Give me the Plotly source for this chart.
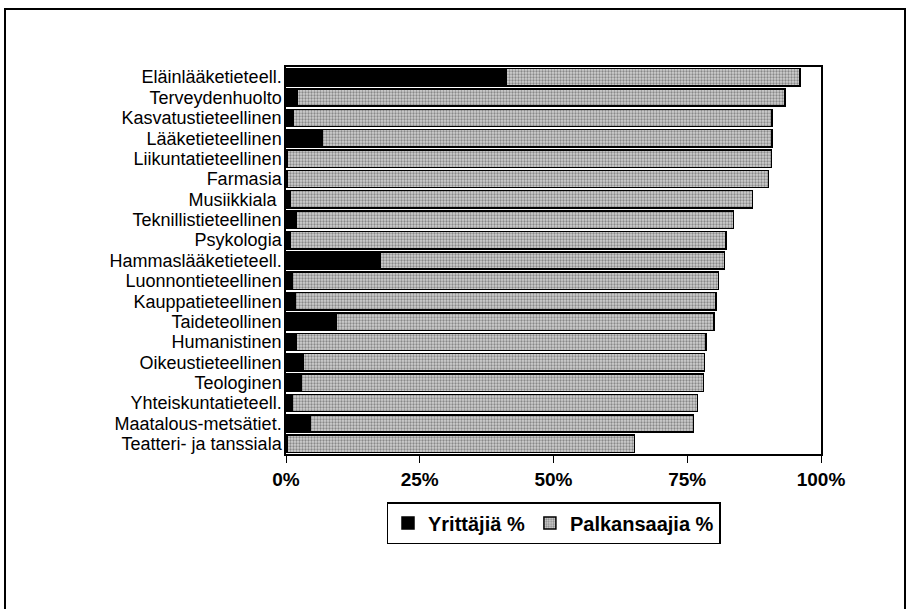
import plotly.graph_objects as go

categories = ["Eläinlääketieteell.", "Terveydenhuolto", "Kasvatustieteellinen", "Lääketieteellinen",
              "Liikuntatieteellinen", "Farmasia", "Musiikkiala\u00a0", "Teknillistieteellinen",
              "Psykologia", "Hammaslääketieteell.", "Luonnontieteellinen", "Kauppatieteellinen",
              "Taideteollinen", "Humanistinen", "Oikeustieteellinen", "Teologinen",
              "Yhteiskuntatieteell.", "Maatalous-metsätiet.", "Teatteri- ja tanssiala"]
yrittajia = [41.2, 2.1, 1.3, 6.8, 0.3, 0.2, 0.8, 1.9, 0.8, 17.7, 1.2, 1.7, 9.3, 2.0, 3.2, 2.9, 1.2, 4.6, 0.2]
palkansaajia = [54.9, 91.2, 89.5, 84.0, 90.4, 90.0, 86.4, 81.7, 81.4, 64.3, 79.6, 78.7, 70.7, 76.5, 75.0, 75.1, 75.7, 71.6, 64.9]
tick_vals = [0, 25, 50, 75, 100]
tick_text = ["0%", "25%", "50%", "75%", "100%"]

W, H = 910, 609
L, R, T, B = 286, 89, 67, 155
pw, ph = W - L - R, H - T - B

fig = go.Figure()
fig.add_trace(go.Bar(
    y=categories, x=yrittajia, orientation="h", name="Yrittäjiä %",
    marker=dict(color="black", line=dict(color="black", width=1.5)),
))
fig.add_trace(go.Bar(
    y=categories, x=palkansaajia, orientation="h", name="Palkansaajia %",
    marker=dict(color="#b0b0b0", line=dict(color="black", width=1.5),
                pattern=dict(shape=".", fgcolor="#404040", bgcolor="#d0d0d0", size=3, solidity=0.45)),
))

def px_x(x):
    return (x - L) / pw

def px_y(y):
    return (H - B - y) / ph

fig.add_shape(type="rect", xref="paper", yref="paper",
              x0=px_x(5), x1=px_x(905), y0=px_y(640), y1=px_y(9),
              line=dict(color="black", width=2), fillcolor="rgba(0,0,0,0)", layer="below")

fig.update_layout(
    width=W, height=H, barmode="stack", bargap=0.15,
    margin=dict(l=L, r=R, t=T, b=B),
    paper_bgcolor="white", plot_bgcolor="white",
    font=dict(family="Liberation Sans, Arial, sans-serif", size=18, color="black"),
    showlegend=True,
    legend=dict(orientation="h", x=0.5, xanchor="center", y=px_y(502), yanchor="top",
                bordercolor="black", borderwidth=1.5, font=dict(size=20, weight="bold"),
                itemwidth=30, traceorder="normal"),
    xaxis=dict(range=[0, 100], tickvals=tick_vals, ticktext=tick_text,
               tickfont=dict(size=19, weight="bold"), showline=True, linecolor="black",
               linewidth=1.5, mirror=True, ticks="outside", ticklen=7, tickcolor="black",
               showgrid=False, zeroline=False, fixedrange=True),
    yaxis=dict(autorange="reversed", tickmode="array", tickvals=categories,
               showline=True, linecolor="black", linewidth=1.5,
               mirror=True, ticks="", showgrid=False, tickfont=dict(size=18),
               ticklabelstandoff=-1, fixedrange=True),
)
fig.write_html("out.html", post_script="document.body.style.margin='0';",
               config={"displayModeBar": False})
